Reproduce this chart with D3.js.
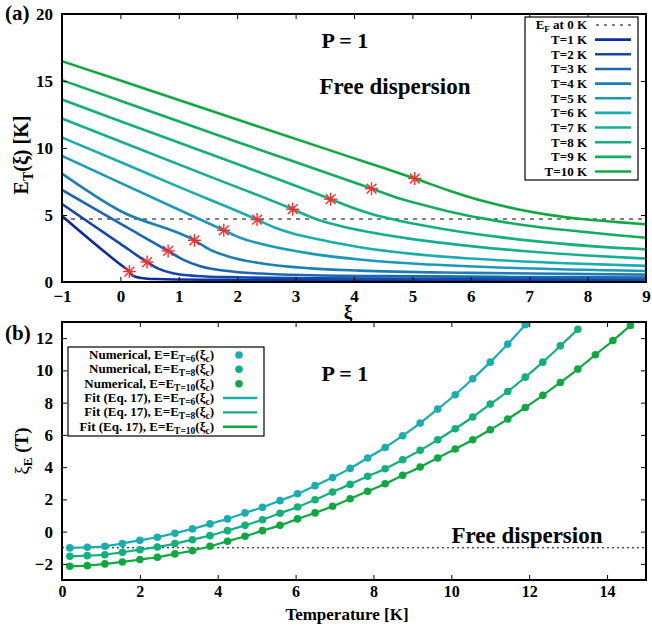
<!DOCTYPE html>
<html><head><meta charset="utf-8">
<script src="https://cdn.jsdelivr.net/npm/d3@7"></script>
<style>
body{margin:0;background:#fff;}
svg text{font-family:"Liberation Serif","Times New Roman",serif;font-weight:bold;fill:#000;}
</style></head>
<body><svg id="c" width="652" height="629"></svg>
<script>
// ---------- Panel (a) data: E_T(xi) curves ----------
const tLabels = ["T=1 K","T=2 K","T=3 K","T=4 K","T=5 K","T=6 K","T=7 K","T=8 K","T=9 K","T=10 K"];
const tColors = ["#0d2c9e","#1447a8","#1a66b3","#1c7fb2","#1c98b8","#1aadb0","#14ae94","#12b07a","#10ae5e","#0fa83f"];
const curveT1 = [[-1,4.93],[0,1.3],[0.154,0.78],[0.22,0.45],[0.35,0.3],[0.6,0.22],[1.5,0.16],[3,0.13],[6,0.09],[9,0.06]];
const curveT2 = [[-1,5.82],[0,2.85],[0.457,1.49],[0.65,1.0],[0.9,0.65],[1.3,0.45],[2,0.35],[3.3,0.28],[6,0.22],[9,0.18]];
const curveT3 = [[-1,6.87],[0,4.35],[0.817,2.32],[1.08,1.65],[1.37,1.17],[1.83,0.82],[2.4,0.63],[3.26,0.5],[4.5,0.44],[6.5,0.38],[9,0.33]];
const curveT4 = [[-1,8.09],[0,5.3],[1.268,3.11],[1.54,2.4],[1.83,1.93],[2.4,1.4],[3.26,1.02],[4.1,0.85],[6,0.68],[9,0.55]];
const curveT5 = [[-1,9.41],[0,7.4],[1.77,3.86],[2.05,3.3],[2.4,2.85],[3.26,2.12],[4.1,1.68],[5,1.38],[6.5,1.08],[9,0.82]];
const curveT6 = [[-1,10.78],[0,8.95],[1,7.1],[2.34,4.66],[2.65,4.05],[2.97,3.6],[3.26,3.3],[4.1,2.6],[5,2.1],[6,1.75],[7.5,1.42],[9,1.2]];
const curveT7 = [[-1,12.2],[0,10.49],[1.5,7.92],[2.95,5.43],[3.3,4.78],[3.7,4.25],[4.1,3.86],[5,3.2],[6,2.68],[7,2.28],[8,1.98],[9,1.75]];
const curveT8 = [[-1,13.62],[0,12.0],[2,8.8],[3.6,6.18],[3.94,5.6],[4.3,5.08],[4.8,4.55],[5.5,3.98],[6.5,3.35],[7.5,2.88],[8.3,2.6],[9,2.44]];
const curveT9 = [[-1,15.06],[0,13.53],[2,10.45],[4.3,6.97],[4.7,6.35],[5.09,5.85],[5.66,5.23],[6.23,4.73],[6.8,4.31],[7.37,3.99],[7.94,3.74],[8.51,3.49],[9,3.31]];
const curveT10 = [[-1,16.48],[0,15.03],[2,12.12],[3.94,9.32],[4.51,8.5],[5.04,7.72],[5.66,6.78],[6.23,6.02],[6.8,5.43],[7.37,4.99],[7.94,4.68],[8.51,4.47],[9,4.31]];
const starXi = [0.154,0.457,0.817,1.268,1.77,2.34,2.95,3.6,4.3,5.04];
const starE  = [0.78,1.49,2.32,3.11,3.86,4.66,5.43,6.18,6.97,7.72];
const fermiE = 4.7;
const xTicksA = [-1,0,1,2,3,4,5,6,7,8,9];
const yTicksA = [0,5,10,15,20];

// ---------- Panel (b) data: xi_E(T) ----------
const tempK = [0.2,0.65,1.1,1.55,2.0,2.45,2.9,3.35,3.8,4.25,4.7,5.15,5.6,6.05,6.5,6.95,7.4,7.85,8.3,8.75,9.2,9.65,10.1,10.55,11.0,11.45,11.9,12.35,12.8,13.25,13.7,14.15,14.6];
const xiT6 = [-1.01,-0.97,-0.91,-0.74,-0.54,-0.35,-0.10,0.17,0.48,0.79,1.16,1.51,1.92,2.35,2.85,3.35,3.92,4.57,5.22,5.95,6.73,7.60,8.49,9.48,10.51,11.63,12.83];
const xiT8 = [-1.53,-1.49,-1.43,-1.28,-1.12,-0.95,-0.74,-0.50,-0.25,0.06,0.39,0.74,1.14,1.53,1.98,2.46,2.93,3.43,3.90,4.46,5.04,5.70,6.38,7.11,7.91,8.69,9.58,10.51,11.52,12.55];
const xiT10 = [-2.15,-2.11,-2.00,-1.88,-1.73,-1.59,-1.38,-1.18,-0.91,-0.60,-0.29,0.06,0.39,0.79,1.16,1.57,2.04,2.50,2.97,3.49,4.01,4.57,5.12,5.70,6.32,6.98,7.70,8.45,9.25,10.08,10.97,11.85,12.78];
const seriesB = ["T=6","T=8","T=10"];
const colorsB = ["#1aadb0","#12b07a","#0fa83f"];
const freeXi = -1;
const xTicksB = [0,2,4,6,8,10,12,14];
const yTicksB = [-2,0,2,4,6,8,10,12];

const svg = d3.select("#c");
const L = 62, R = 646;

function frameAxes(g, x, y, xt, yt, y0, y1, xPad, xFont) {
  const fmt = d => d < 0 ? "\u2212" + Math.abs(d) : String(d);
  const ax = g.append("g").attr("transform", `translate(0,${y1})`)
    .call(d3.axisBottom(x).tickValues(xt).tickSize(-5).tickPadding(xPad).tickFormat(fmt));
  const at = g.append("g").attr("transform", `translate(0,${y0})`)
    .call(d3.axisTop(x).tickValues(xt).tickSize(-5).tickFormat(""));
  const ay = g.append("g").attr("transform", `translate(${L},0)`)
    .call(d3.axisLeft(y).tickValues(yt).tickSize(-5).tickPadding(9).tickFormat(fmt));
  const ar = g.append("g").attr("transform", `translate(${R},0)`)
    .call(d3.axisRight(y).tickValues(yt).tickSize(-5).tickFormat(""));
  [ax,at,ay,ar].forEach(a => { a.select(".domain").remove(); a.selectAll("line").attr("stroke","#000").attr("stroke-width",1); });
  g.selectAll(".tick text").attr("font-size",17).attr("font-family","Liberation Serif").attr("font-weight","bold").attr("fill","#000");
  ax.selectAll(".tick text").attr("font-size",xFont);
  g.append("rect").attr("x",L).attr("y",y0).attr("width",R-L).attr("height",y1-y0)
    .attr("fill","none").attr("stroke","#000").attr("stroke-width",2);
}

// ================= Panel (a) =================
{
  const y0 = 14, y1 = 282;
  const x = d3.scaleLinear().domain([-1,9]).range([L,R]);
  const y = d3.scaleLinear().domain([0,20]).range([y1,y0]);
  const g = svg.append("g");
  svg.append("defs").append("clipPath").attr("id","clipA").append("rect")
    .attr("x",L).attr("y",y0).attr("width",R-L).attr("height",y1-y0);
  const pg = g.append("g").attr("clip-path","url(#clipA)");
  pg.append("line").attr("x1",x(-1)).attr("x2",x(9)).attr("y1",y(fermiE)).attr("y2",y(fermiE))
    .attr("stroke","#555").attr("stroke-width",1.3).attr("stroke-dasharray","4,5");
  const curves = [curveT1,curveT2,curveT3,curveT4,curveT5,curveT6,curveT7,curveT8,curveT9,curveT10];
  const line = d3.line().x(d=>x(d[0])).y(d=>y(d[1])).curve(d3.curveMonotoneX);
  curves.forEach((c,i) => pg.append("path").attr("d",line(c)).attr("fill","none")
    .attr("stroke",tColors[i]).attr("stroke-width",2.6));
  starXi.forEach((s,i) => {
    const sg = pg.append("g").attr("transform",`translate(${x(s)},${y(starE[i])})`)
      .attr("stroke","#ff2a2a").attr("stroke-width",1.4);
    const r = 6.5;
    sg.append("line").attr("x1",-r).attr("x2",r).attr("y1",0).attr("y2",0);
    sg.append("line").attr("x1",0).attr("x2",0).attr("y1",-r).attr("y2",r);
    sg.append("line").attr("x1",-r*0.75).attr("x2",r*0.75).attr("y1",-r*0.75).attr("y2",r*0.75);
    sg.append("line").attr("x1",-r*0.75).attr("x2",r*0.75).attr("y1",r*0.75).attr("y2",-r*0.75);
  });
  frameAxes(g, x, y, xTicksA, yTicksA, y0, y1, 8, 17);

  // texts
  g.append("text").attr("x",345).attr("y",48).attr("text-anchor","middle").attr("font-size",22).text("P = 1");
  g.append("text").attr("x",395).attr("y",94).attr("text-anchor","middle").attr("font-size",23).text("Free dispersion");
  g.append("text").attr("x",5).attr("y",20).attr("font-size",21).text("(a)");
  g.append("text").attr("x",348).attr("y",318).attr("text-anchor","middle").attr("font-size",19).attr("font-weight","normal").text("ξ");
  const yl = g.append("text").attr("transform","translate(28,155) rotate(-90)").attr("text-anchor","middle").attr("font-size",20);
  yl.append("tspan").text("E");
  yl.append("tspan").attr("font-size",14).attr("dy",5).text("T");
  yl.append("tspan").attr("dy",-5).text("(ξ) [K]");

  // legend
  const lg = g.append("g");
  lg.append("rect").attr("x",525).attr("y",17).attr("width",113).attr("height",163)
    .attr("fill","#fff").attr("stroke","#000").attr("stroke-width",1.2);
  const rowY = i => 25 + i*14.65;
  const t0 = lg.append("text").attr("x",587).attr("y",rowY(0)+4).attr("text-anchor","end").attr("font-size",13);
  t0.append("tspan").text("E");
  t0.append("tspan").attr("font-size",9).attr("dy",3).text("F");
  t0.append("tspan").attr("dy",-3).text(" at 0 K");
  lg.append("line").attr("x1",596).attr("x2",631).attr("y1",rowY(0)).attr("y2",rowY(0))
    .attr("stroke","#555").attr("stroke-width",1.3).attr("stroke-dasharray","3,5");
  tLabels.forEach((t,i) => {
    lg.append("text").attr("x",587).attr("y",rowY(i+1)+4.5).attr("text-anchor","end").attr("font-size",13).text(t);
    lg.append("line").attr("x1",595).attr("x2",631).attr("y1",rowY(i+1)).attr("y2",rowY(i+1))
      .attr("stroke",tColors[i]).attr("stroke-width",2.6);
  });
}

// ================= Panel (b) =================
{
  const y0 = 322, y1 = 580;
  const x = d3.scaleLinear().domain([0,15]).range([L,R]);
  const y = d3.scaleLinear().domain([-3,13]).range([y1,y0]);
  const g = svg.append("g");
  svg.select("defs").append("clipPath").attr("id","clipB").append("rect")
    .attr("x",L).attr("y",y0).attr("width",R-L).attr("height",y1-y0);
  const pg = g.append("g").attr("clip-path","url(#clipB)");
  pg.append("line").attr("x1",x(0)).attr("x2",x(15)).attr("y1",y(freeXi)).attr("y2",y(freeXi))
    .attr("stroke","#000").attr("stroke-width",1).attr("stroke-dasharray","2,3");
  const sets = [xiT6, xiT8, xiT10];
  const line = d3.line().x(d=>x(d[0])).y(d=>y(d[1])).curve(d3.curveMonotoneX);
  sets.forEach((vals,i) => {
    const pts = vals.map((v,k) => [tempK[k], v]);
    pg.append("path").attr("d",line(pts)).attr("fill","none").attr("stroke",colorsB[i]).attr("stroke-width",2.2);
    pg.selectAll(null).data(pts).enter().append("circle")
      .attr("cx",d=>x(d[0])).attr("cy",d=>y(d[1])).attr("r",3.8).attr("fill",colorsB[i]);
  });
  frameAxes(g, x, y, xTicksB, yTicksB, y0, y1, 6, 16);

  g.append("text").attr("x",347).attr("y",620).attr("text-anchor","middle").attr("font-size",17).text("Temperature [K]");
  g.append("text").attr("x",345).attr("y",381).attr("text-anchor","middle").attr("font-size",22).text("P = 1");
  g.append("text").attr("x",527).attr("y",543).attr("text-anchor","middle").attr("font-size",23).text("Free dispersion");
  g.append("text").attr("x",5).attr("y",340).attr("font-size",21).text("(b)");
  const yl = g.append("text").attr("transform","translate(28,451) rotate(-90)").attr("text-anchor","middle").attr("font-size",19);
  yl.append("tspan").attr("font-weight","normal").text("ξ");
  yl.append("tspan").attr("font-size",13).attr("dy",4).text("E");
  yl.append("tspan").attr("dy",-4).text(" (T)");

  // legend
  const lg = g.append("g");
  lg.append("rect").attr("x",68).attr("y",347).attr("width",196).attr("height",89)
    .attr("fill","#fff").attr("stroke","#000").attr("stroke-width",1.2);
  const rowY = i => 355 + i*14.35;
  const labs = [["Numerical, E=E","T=6"],["Numerical, E=E","T=8"],["Numerical, E=E","T=10"],
                ["Fit (Eq. 17), E=E","T=6"],["Fit (Eq. 17), E=E","T=8"],["Fit (Eq. 17), E=E","T=10"]];
  labs.forEach((lb,i) => {
    const t = lg.append("text").attr("x",214).attr("y",rowY(i)+4).attr("text-anchor","end").attr("font-size",13);
    t.append("tspan").text(lb[0]);
    t.append("tspan").attr("font-size",9.5).attr("dy",3).text(lb[1]);
    t.append("tspan").attr("dy",-3).text("(ξ");
    t.append("tspan").attr("font-size",9.5).attr("dy",3).text("c");
    t.append("tspan").attr("dy",-3).text(")");
    const c = colorsB[i % 3];
    if (i < 3) lg.append("circle").attr("cx",239).attr("cy",rowY(i)).attr("r",3.8).attr("fill",c);
    else lg.append("line").attr("x1",223).attr("x2",257).attr("y1",rowY(i)).attr("y2",rowY(i)).attr("stroke",c).attr("stroke-width",2.4);
  });
}
</script></body></html>
